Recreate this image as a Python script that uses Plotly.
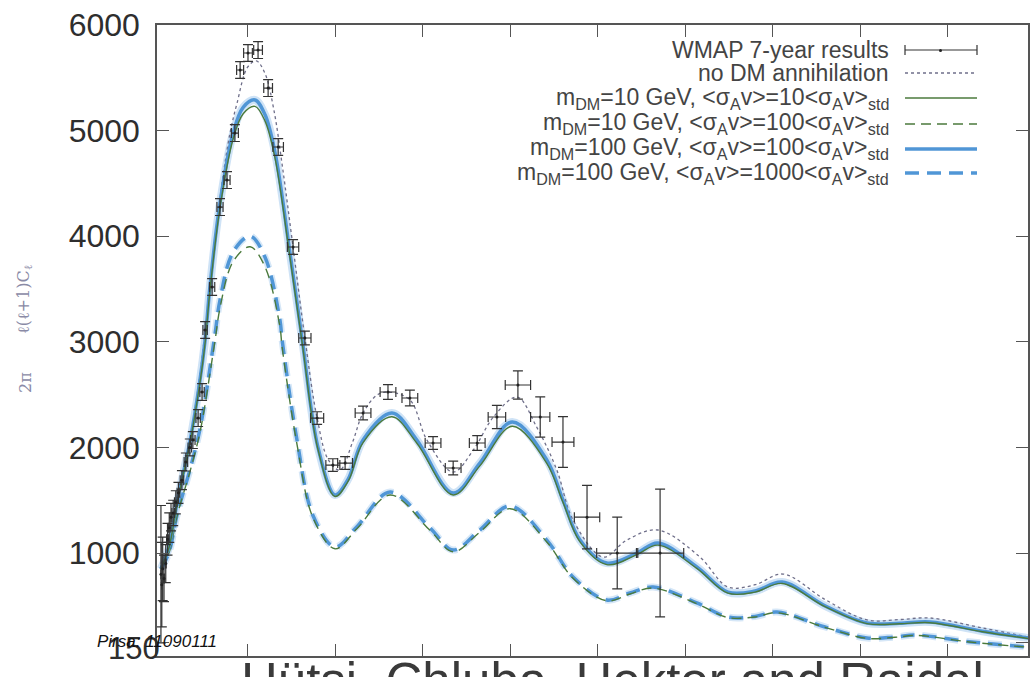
import plotly.graph_objects as go

# ---------------- data ----------------
# multipole grid for the theory curves
l_nodm = [2, 20, 40, 69, 90, 103, 120, 140, 160, 176, 200, 220, 240, 260, 280, 304, 331, 359, 385, 411,
          440, 464, 496, 521, 571, 610, 670, 716, 762, 816, 860, 907, 944, 1013, 1067, 1138, 1234, 1298,
          1360, 1424, 1520, 1616, 1690, 1760, 1880, 1984]
cl_nodm = [900, 1080, 1520, 2100, 2650, 3100, 3700, 4450, 4977, 5261, 5600, 5660, 5540, 5200, 4650, 3898,
           3036, 2278, 1880, 1786, 2050, 2326, 2496, 2525, 2450, 2070, 1767, 1975, 2288, 2477, 2200, 1786,
           1313, 962, 1123, 1218, 962, 678, 700, 801, 560, 366, 370, 385, 290, 205]

l_sol = [2, 20, 40, 69, 90, 103, 114, 137, 167, 190, 217, 240, 263, 297, 325, 361, 400, 430, 464, 530,
         587, 670, 731, 805, 884, 921, 960, 1021, 1090, 1138, 1227, 1298, 1360, 1422, 1520, 1616, 1690,
         1760, 1880, 1984]
cl_100_100 = [850, 1050, 1500, 2070, 2600, 3017, 3519, 4314, 4977, 5220, 5290, 5150, 4788, 3841, 3017,
              2000, 1549, 1700, 2070, 2326, 2070, 1568, 1852, 2241, 1881, 1502, 1123, 905, 1000, 1095,
              868, 630, 640, 725, 500, 337, 335, 347, 260, 195]
cl_10_10 = [850, 1045, 1490, 2055, 2580, 2990, 3485, 4270, 4920, 5160, 5230, 5090, 4735, 3800, 2985,
            1980, 1535, 1680, 2045, 2290, 2040, 1550, 1825, 2200, 1850, 1480, 1105, 890, 985, 1075,
            855, 620, 630, 712, 492, 332, 330, 340, 255, 190]

l_dash = [2, 20, 40, 69, 90, 103, 114, 126, 137, 167, 206, 240, 274, 279, 313, 350, 400, 450, 526, 617,
          670, 731, 800, 884, 944, 1021, 1074, 1127, 1227, 1298, 1360, 1410, 1520, 1616, 1680, 1730,
          1850, 1984]
cl_100_1000 = [850, 1000, 1380, 1800, 2150, 2450, 2750, 3083, 3396, 3850, 4000, 3800, 3207, 3017, 2070,
               1350, 1057, 1250, 1577, 1237, 1028, 1218, 1445, 1123, 773, 555, 621, 678, 527, 394, 400,
               441, 300, 195, 205, 223, 160, 110]
cl_10_100 = [850, 995, 1370, 1780, 2120, 2410, 2700, 3020, 3320, 3760, 3900, 3710, 3140, 2950, 2030,
             1330, 1040, 1230, 1550, 1215, 1012, 1198, 1420, 1105, 762, 548, 612, 668, 520, 389, 395,
             435, 296, 192, 202, 219, 158, 108]

# WMAP 7-year binned data
wmap_l = [2, 4, 6, 9, 13, 17, 21, 25, 30, 36, 42, 50, 59, 68, 75, 87, 96, 103, 119, 137, 153, 171, 183,
          201, 224, 247, 270, 304, 331, 359, 395, 423, 464, 521, 571, 624, 670, 725, 770, 818, 869, 921,
          976, 1045, 1143]
wmap_cl = [800, 700, 850, 760, 900, 1130, 1240, 1340, 1380, 1480, 1570, 1690, 1862, 2000, 2070, 2278,
           2525, 3112, 3519, 4276, 4532, 4977, 5574, 5735, 5763, 5403, 4845, 3898, 3036, 2278, 1833,
           1852, 2326, 2525, 2468, 2042, 1805, 2042, 2288, 2591, 2288, 2051, 1340, 1000, 1000]
wmap_dcl = [650, 400, 300, 220, 180, 150, 140, 130, 120, 110, 100, 90, 85, 80, 80, 80, 80, 80, 80, 80,
            80, 80, 80, 80, 80, 80, 80, 70, 65, 60, 60, 60, 65, 70, 75, 60, 65, 70, 110, 133, 190, 240,
            300, 340, 605]
wmap_dl = [0, 0, 0, 1, 1, 2, 2, 2, 3, 3, 3, 4, 4, 4, 5, 5, 5, 5, 6, 7, 7, 8, 8, 10, 10, 10, 12, 13, 14,
           15, 16, 17, 18, 18, 18, 18, 18, 18, 20, 29, 22, 25, 29, 47, 54]

ytick_vals = [150, 1000, 2000, 3000, 4000, 5000, 6000]
ytick_text = ["", "1000", "2000", "3000", "4000", "5000", "6000"]
ybottom_label = "150"
xtick_vals = [200, 400, 600, 800, 1000, 1200, 1400, 1600, 1800]

legend_labels = [
    "WMAP 7-year results",
    "no DM annihilation",
    "m<sub>DM</sub>=10 GeV, &lt;σ<sub>A</sub>v&gt;=10&lt;σ<sub>A</sub>v&gt;<sub>std</sub>",
    "m<sub>DM</sub>=10 GeV, &lt;σ<sub>A</sub>v&gt;=100&lt;σ<sub>A</sub>v&gt;<sub>std</sub>",
    "m<sub>DM</sub>=100 GeV, &lt;σ<sub>A</sub>v&gt;=100&lt;σ<sub>A</sub>v&gt;<sub>std</sub>",
    "m<sub>DM</sub>=100 GeV, &lt;σ<sub>A</sub>v&gt;=1000&lt;σ<sub>A</sub>v&gt;<sub>std</sub>",
]

# ---------------- styles ----------------
GREEN = "#4b7a3c"
BLUE = "#5096d6"
DOT = "#6f6f8a"
FONT = "Liberation Sans, Arial"

W, H = 1031, 677
ML, MR, MT, MB = 157, 3, 25, 21
PW, PH = W - ML - MR, H - MT - MB


def px(x):
    return (x - ML) / PW


def py(y):
    return (H - MB - y) / PH


fig = go.Figure()

fig.add_trace(go.Scatter(x=l_sol, y=cl_100_100, mode="lines", line=dict(color="#cfe3f6", width=8, shape="spline"),
                         hoverinfo="skip", showlegend=False))
fig.add_trace(go.Scatter(x=l_dash, y=cl_100_1000, mode="lines",
                         line=dict(color="#d6e7f7", width=7, shape="spline", dash="14px,8px"),
                         hoverinfo="skip", showlegend=False))
fig.add_trace(go.Scatter(x=l_nodm, y=cl_nodm, mode="lines", name=legend_labels[1],
                         line=dict(color=DOT, width=1.3, shape="spline", dash="dot"), showlegend=False))
fig.add_trace(go.Scatter(x=l_dash, y=cl_100_1000, mode="lines", name=legend_labels[5],
                         line=dict(color=BLUE, width=3.5, shape="spline", dash="14px,8px"), showlegend=False))
fig.add_trace(go.Scatter(x=l_dash, y=cl_10_100, mode="lines", name=legend_labels[3],
                         line=dict(color=GREEN, width=1.4, shape="spline", dash="10px,6px"), showlegend=False))
fig.add_trace(go.Scatter(x=l_sol, y=cl_100_100, mode="lines", name=legend_labels[4],
                         line=dict(color=BLUE, width=3.5, shape="spline"), showlegend=False))
fig.add_trace(go.Scatter(x=l_sol, y=cl_10_10, mode="lines", name=legend_labels[2],
                         line=dict(color=GREEN, width=1.4, shape="spline"), showlegend=False))
fig.add_trace(go.Scatter(x=wmap_l, y=wmap_cl, mode="markers", name=legend_labels[0],
                         marker=dict(color="#222222", size=3),
                         error_y=dict(type="data", array=wmap_dcl, color="#333333", thickness=1.2, width=5),
                         error_x=dict(type="data", array=wmap_dl, color="#333333", thickness=1.2, width=5),
                         showlegend=False))

# ---------------- legend (gnuplot style: text left, sample right) ----------------
rows_y = [50, 73, 98, 124, 149, 173]
shapes = []
annotations = []
for lab, ry in zip(legend_labels, rows_y):
    annotations.append(dict(x=px(890), y=py(ry), xref="paper", yref="paper", text=lab, showarrow=False,
                            xanchor="right", yanchor="middle", borderpad=0,
                            font=dict(family=FONT, size=23, color="#444444")))
# sample 0: error bar
shapes.append(dict(type="line", xref="paper", yref="paper", x0=px(905), x1=px(977), y0=py(50), y1=py(50),
                   line=dict(color="#333333", width=1.2)))
for xx in (905, 977):
    shapes.append(dict(type="line", xref="paper", yref="paper", x0=px(xx), x1=px(xx), y0=py(45), y1=py(55),
                       line=dict(color="#333333", width=1.2)))
shapes.append(dict(type="circle", xref="paper", yref="paper", x0=px(939), x1=px(942), y0=py(49), y1=py(52),
                   fillcolor="#222222", line=dict(width=0)))
sample_styles = [
    (rows_y[1], DOT, 1.3, "dot"),
    (rows_y[2], GREEN, 1.4, "solid"),
    (rows_y[3], GREEN, 1.4, "10px,6px"),
    (rows_y[4], BLUE, 3.5, "solid"),
    (rows_y[5], BLUE, 3.5, "14px,8px"),
]
for ry, col, wd, ds in sample_styles:
    shapes.append(dict(type="line", xref="paper", yref="paper", x0=px(905), x1=px(977), y0=py(ry), y1=py(ry),
                       line=dict(color=col, width=wd, dash=ds)))

# faint, partly visible y-axis title of the slide
annotations.append(dict(x=px(24), y=py(300), xref="paper", yref="paper",
                        text="ℓ(ℓ+1)C<sub>ℓ</sub>", showarrow=False, textangle=-90,
                        font=dict(family="DejaVu Serif", size=16, color="#8a8aa6"), xanchor="center",
                        yanchor="middle"))
annotations.append(dict(x=px(25), y=py(383), xref="paper", yref="paper",
                        text="2π", showarrow=False, textangle=-90,
                        font=dict(family="DejaVu Serif", size=16, color="#8a8aa6"), xanchor="center",
                        yanchor="middle"))
# bottom y label, sitting a little further right as in the photo
annotations.append(dict(x=px(162), y=py(648), xref="paper", yref="paper", text=ybottom_label,
                        showarrow=False, xanchor="right", yanchor="middle",
                        font=dict(family=FONT, size=31, color="#2e2e2e")))
# slide text below the plot (cut by the photo's bottom edge)
annotations.append(dict(x=px(239), y=py(651), xref="paper", yref="paper",
                        text="Hütsi, Chluba, Hektor and Raidal", showarrow=False, xanchor="left",
                        yanchor="top", font=dict(family=FONT, size=51, color="#3a3a3a")))
annotations.append(dict(x=px(95), y=py(641), xref="paper", yref="paper", text="<i>Pirsa: 11090111</i>",
                        showarrow=False, xanchor="left", yanchor="middle",
                        font=dict(family=FONT, size=17, color="#111111")))

fig.update_layout(
    width=W, height=H,
    margin=dict(l=ML, r=MR, t=MT, b=MB, pad=0, autoexpand=False),
    paper_bgcolor="white", plot_bgcolor="white",
    shapes=shapes, annotations=annotations,
    showlegend=False,
)
fig.update_xaxes(range=[-7, 1984], showgrid=False, zeroline=False, showline=True, linecolor="#555555",
                 linewidth=1.5, mirror="ticks", ticks="inside", ticklen=12, tickcolor="#555555",
                 tickvals=xtick_vals, showticklabels=False, automargin=False)
fig.update_yaxes(range=[25, 6000], showgrid=False, zeroline=False, showline=True, linecolor="#555555",
                 linewidth=1.5, mirror="ticks", ticks="inside", ticklen=12, tickcolor="#555555",
                 tickvals=ytick_vals, ticktext=ytick_text, ticklabelstandoff=9,
                 tickfont=dict(family=FONT, size=32, color="#2e2e2e"), automargin=False)

# the page itself should have no body margin so the figure sits at the window's top-left corner
fig.write_html("out.html", config={"displayModeBar": False},
               post_script="document.body.style.margin='0';document.body.style.overflow='hidden';")
